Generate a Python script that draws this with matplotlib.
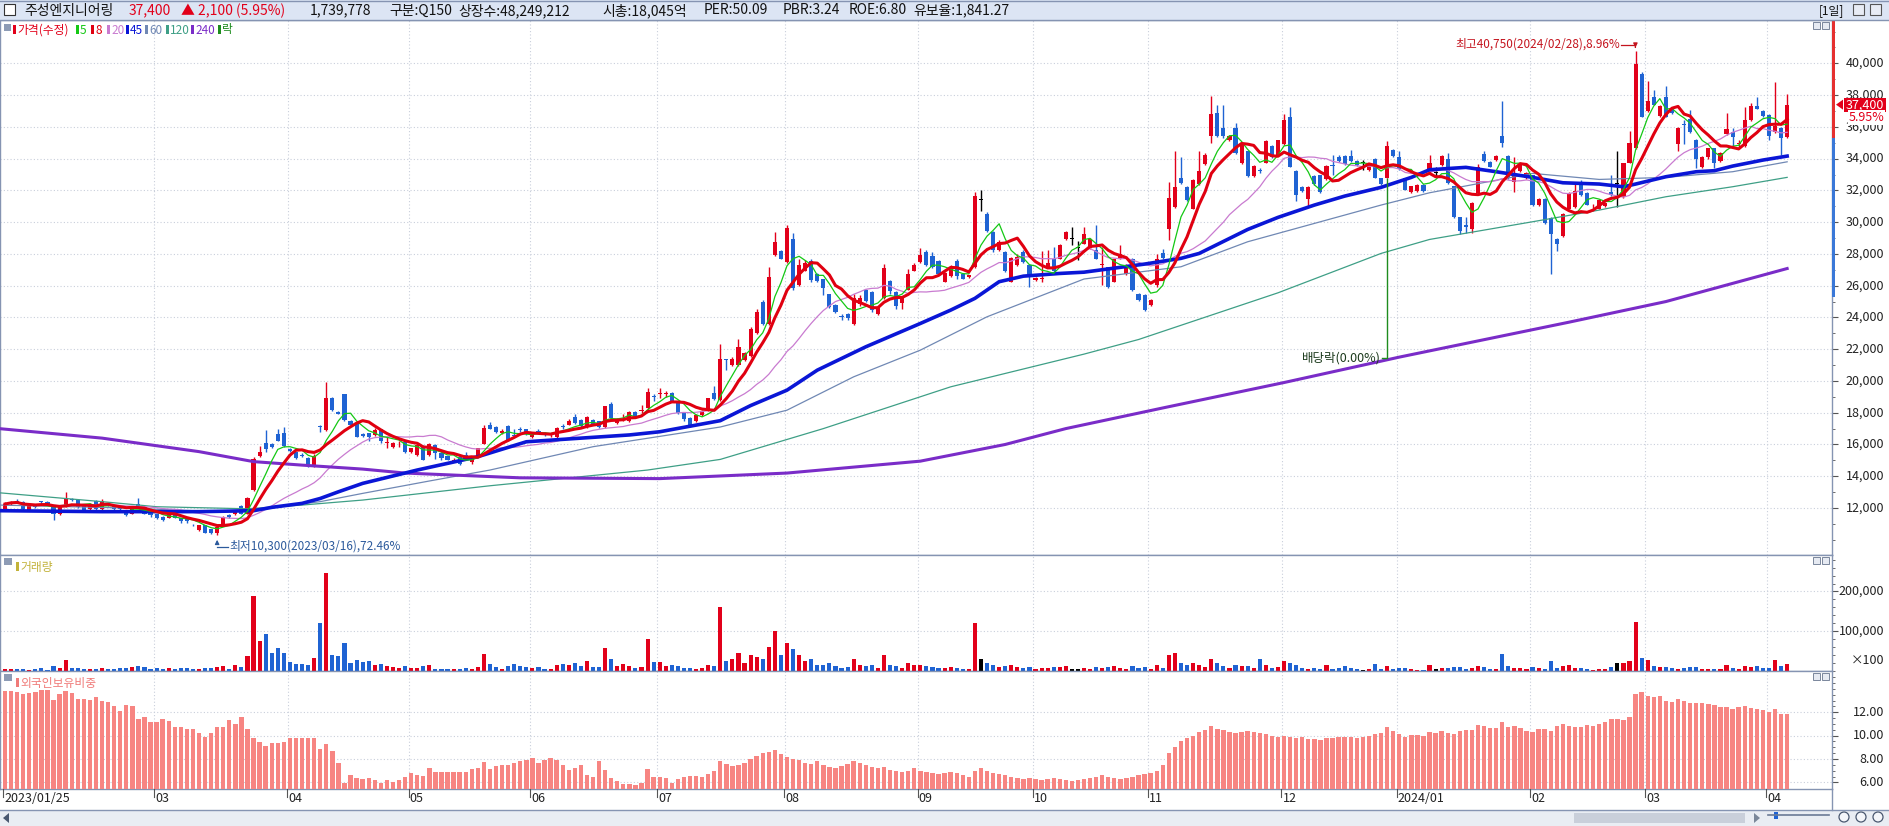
import numpy as np
import pandas as pd
import matplotlib
matplotlib.use('Agg')
import matplotlib.pyplot as plt
from matplotlib.patches import Rectangle, Polygon

plt.rcParams['font.family'] = ['Noto Sans CJK KR', 'DejaVu Sans']
plt.rcParams['axes.unicode_minus'] = False

# ---- daily candles 2023/01/25 .. 2024/04/04 ----
opens = [
    11950,12250,12450,12400,11900,12100,12400,12400,12100,11650,
    12100,12550,12500,12100,11950,12450,11950,12250,12100,12100,
    11850,11650,12250,12050,11750,11600,11450,11400,11600,11350,
    11350,10950,10600,10900,10650,10400,10900,11550,11600,12100,
    11650,13150,15250,16100,16050,16650,16700,15700,15500,15350,
    15150,14650,17150,16900,18950,18050,19150,17500,17350,16650,
    16700,16600,16950,16100,15850,16000,16150,15500,15350,15900,
    15350,15950,15450,15250,14950,15200,15350,14900,15250,16050,
    17250,17100,16700,17150,16600,16950,16950,16450,16850,16700,
    16600,16450,17150,17250,17700,17550,17100,17550,17450,17100,
    18550,17350,17550,17450,18050,18100,18300,19050,19150,19150,
    19250,18650,18000,17650,17450,17850,18150,19250,
    18800,21350,21000,21000,21300,21550,23000,24950,23600,27950,
    28200,27500,28950,26050,26950,27550,26750,26400,25450,24800,
    24100,24200,23600,24850,25700,25600,24200,25200,26300,25600,
    24900,25750,26950,27500,28150,27850,27550,26250,26600,27550,
    26750,26550,27200,31400,30500,29400,28250,28150,26250,27300,
    28150,27300,26350,26400,27200,27700,27700,28950,28950,28400,
    28650,28350,28250,27300,27150,26250,27700,26750,27700,25500,
    25400,24800,26050,28050,29600,30950,32800,32200,30850,32400,
    33650,35400,36850,35950,35200,35900,33700,34450,32900,33250,
    33750,34800,34250,34900,36600,33250,32200,31450,32900,32950,
    32700,33600,34100,34150,34150,33850,33700,33300,33950,32750,
    32800,34550,34100,32750,31900,31950,32350,33150,
    33100,33600,34000,32250,30300,29800,29600,31850,34300,33800,
    33900,35400,34150,32550,33200,32750,32950,31050,31450,30250,
    28950,29100,30850,30950,32500,31850,31050,30850,31000,31900,
    32400,31600,33750,34650,39350,37000,37900,36700,37850,37100,
    34900,36150,36500,35200,33450,34100,34650,33850,35550,35650,
    34900,34800,36450,37300,37000,36750,35650,35950,35350]
closes = [
    12250,12400,12400,11950,12100,12050,12350,12250,11650,12050,
    12650,12500,12050,11900,12250,11950,12450,12150,11950,11950,
    11550,12050,12150,11650,11550,11350,11250,11650,11400,11150,
    11150,10900,10900,10450,10400,10800,11450,11450,11750,11650,
    12650,15100,15550,15700,15850,16250,15900,15600,15150,15300,
    14650,15300,17100,18950,18150,17950,17550,17250,16500,16550,
    16450,16900,16200,16150,16100,16050,15500,15750,15950,15050,
    16000,15450,15150,15050,15050,14800,15050,15250,15750,17050,
    17000,16800,16850,16300,16550,16900,16650,16700,16800,16650,
    16650,17050,17100,17450,17350,17150,17700,17300,17100,18400,
    17650,17600,17600,18050,17800,18150,19300,19000,19200,19200,
    18750,18000,17600,17150,17850,18100,18900,18850,
    21400,21300,21400,22150,21750,23300,24350,23600,26550,28750,
    27700,29650,25850,27300,27450,26350,26300,25850,24650,24350,
    24050,23950,25200,25200,25050,24450,24650,27100,25650,24700,
    25250,26750,27300,27950,27300,27150,26750,26800,27200,26600,
    26450,26650,31650,31400,29450,28250,28750,26900,27750,27800,
    27500,26650,26500,26450,27400,26900,28550,29350,28950,28400,
    29250,28950,27700,27350,25900,27650,28000,27300,25700,25100,
    24450,25100,27700,27750,31550,32200,32450,31400,32650,33250,
    34200,36800,35400,35400,35400,34350,34850,32900,33550,33200,
    35100,34100,35150,36450,33500,31700,31950,32200,32400,31900,
    33550,33550,33850,33650,33850,33600,33700,33600,32800,32400,
    34800,34150,33350,32050,32250,32350,31950,33700,
    33100,34150,32450,30300,29450,29700,31200,33500,33850,33500,
    34150,35000,32750,33100,33600,33100,31050,31450,29950,29250,
    28650,30500,31850,31950,31700,31100,31100,31400,31200,31700,
    32400,33700,35000,39950,36650,37600,37400,37300,36650,36850,
    35900,36100,35650,33950,34100,34650,33700,34350,35850,35350,
    34950,36450,37300,37150,36700,35400,36050,35300,37400]
highs = [
    12350,12450,12550,12450,12150,12150,12450,12450,12150,12100,
    13000,12650,12550,12150,12300,12500,12550,12300,12150,12150,
    11900,12100,12600,12100,11800,11650,11500,11700,11650,11400,
    11400,11000,10950,10950,10700,10850,11500,11600,11850,12200,
    12700,15200,15900,16900,16100,17000,17100,15750,15550,15450,
    15200,15400,17250,19950,19000,18100,19200,17550,17400,16700,
    16750,17050,17000,16500,16150,16200,16200,15800,16050,15950,
    16100,16000,15500,15300,15150,15250,15500,15300,15800,17200,
    17400,17150,16950,17200,16950,17100,17000,16750,17000,16800,
    16750,17100,17300,17600,17950,17600,17800,17600,17500,18450,
    18700,17650,17950,18100,18100,18500,19550,19200,19550,19350,
    19300,18700,18050,17700,17950,18150,18950,19700,
    22350,21400,21500,22650,21850,23400,24550,25100,27200,29350,
    28250,29800,29300,27700,27600,27700,26800,26450,25500,24850,
    24200,24250,25450,25400,25800,25650,24700,27350,26350,25650,
    25300,27050,27450,28400,28250,28150,27600,26850,27300,27650,
    26800,26700,31900,32000,30650,29450,28850,28200,27800,28000,
    28250,27350,26550,28200,28250,28450,28600,29450,29700,28800,
    29700,29000,29800,28450,27200,27700,28550,27350,27750,25550,
    25450,25150,28000,28300,32550,34450,34100,32250,32700,34500,
    34350,37950,37400,37400,35500,36250,34900,34500,33600,33400,
    35150,34850,35200,36800,37250,33300,32250,32250,32950,33000,
    33600,34250,34250,34200,34550,33900,33900,33650,34050,32800,
    35100,34600,34500,32800,32300,32400,32400,34200,
    33500,34200,34350,32300,30350,30350,31250,33650,34500,33850,
    34200,37650,34200,34100,33650,33150,33000,31500,31500,30300,
    29000,30550,31900,32550,32650,31900,31150,31450,31250,32950,
    34450,33750,35750,40750,39450,38900,38300,37350,38600,37150,
    36000,36450,37050,35250,34150,34700,34700,34400,36850,35900,
    35150,37250,37500,37900,37050,36800,38800,36000,38100]
lows = [
    11900,12200,12350,11900,11850,12000,12250,12200,11250,11550,
    12050,12450,12000,11850,11900,11900,11900,12100,11900,11850,
    11500,11600,12100,11600,11450,11300,11150,11350,11350,11050,
    11050,10850,10550,10400,10350,10300,10850,11400,11550,11600,
    11600,13050,15200,15500,15800,16200,15850,15550,15100,15200,
    14600,14600,16800,16850,18100,17900,17500,17200,16450,16450,
    16250,16550,16100,15750,15800,15850,15450,15450,15300,15000,
    15300,15100,15050,15000,14900,14700,15000,14800,15200,16000,
    16950,16750,16650,16250,16450,16800,16600,16400,16750,16550,
    16500,16400,17000,17200,17300,17100,17050,17250,17050,17050,
    17600,17300,17450,17400,17750,18000,18250,18750,18950,19000,
    18700,17950,17500,17100,17400,17800,18100,18800,
    18750,20700,20950,20950,21250,21500,22950,23550,23550,27900,
    27650,27450,25700,25950,26900,26250,26200,25400,24600,24300,
    23850,23850,23550,24750,24950,24350,24150,25150,25450,24500,
    24500,25700,26900,27450,27250,27100,26700,26200,26550,26400,
    26400,26500,27100,30700,29400,28100,28200,26850,26200,27250,
    27450,25900,26300,26250,27150,26850,27650,28900,28550,27600,
    28600,28300,27650,26050,25850,26200,27650,26700,25650,25050,
    24400,24750,25900,27700,28850,30900,32400,31350,30800,32350,
    33600,35000,35350,35300,35100,34300,33650,32850,32850,33100,
    33700,34050,34200,34850,33450,31350,31900,31000,32350,31850,
    32650,32950,33800,33600,33800,33550,33300,33250,32750,32350,
    32750,34100,33300,32000,31850,31900,31900,33100,
    32850,33550,32400,30250,29250,29300,29300,31800,33800,33450,
    33850,34750,32700,31900,33150,32700,31000,31000,29900,26750,
    28200,29050,30800,30900,31650,31050,30900,30800,30950,31650,
    30950,31550,33700,34600,36600,36950,37350,36650,36600,36800,
    34450,34900,35600,33400,33400,34000,33400,33800,35500,34750,
    34750,34750,36400,37100,36650,35150,35600,34250,35300]

# volume, shown in units of 100 shares
volume = [
    5000,5000,5000,4200,3400,5900,8400,2500,12600,8400,
    27700,8400,7500,5000,5000,5000,7500,5000,5000,7500,
    7500,10900,12600,10900,5900,8400,5900,8400,5900,7500,
    8400,5900,5900,8400,7500,10900,12600,5900,15100,10900,
    37700,188700,75500,93100,44500,57000,44500,22600,17600,17600,
    15100,32700,119900,247400,40300,37700,69600,19300,27700,23500,
    25200,15100,16800,12600,10900,7500,12600,8400,8400,12600,
    15100,5900,5900,5000,5000,5900,8400,5900,10900,42800,
    17600,10900,5900,12600,17600,13400,10900,8400,10900,5900,
    5900,15100,17600,15100,21000,12600,26000,10900,10900,58700,
    31000,12600,17600,12600,8400,10900,80500,22600,22600,12600,
    15100,12600,8400,8400,5900,8000,15000,12000,
    160000,25000,30000,45000,20000,40000,35000,30000,60000,100000,
    40000,70000,55000,40000,25000,30000,15000,15000,20000,12000,
    8000,10000,30000,15000,12000,15000,8000,40000,15000,12000,
    8000,20000,15000,15000,12000,10000,8000,8000,10000,8000,
    6000,5000,120000,30000,20000,15000,10000,12000,15000,10000,
    8000,10000,5000,8000,8000,10000,10000,12000,6000,5000,
    8000,6000,10000,8000,10000,12000,8000,5000,12000,8000,
    10000,5000,15000,8000,40000,45000,20000,15000,20000,15000,
    10000,30000,20000,12000,8000,15000,12000,12000,8000,30000,
    15000,8000,10000,25000,20000,15000,6700,5000,6700,4200,
    15100,5000,7500,12600,7500,5000,2500,5000,17600,5000,
    12600,5000,7500,7500,5000,2500,2500,15100,
    5000,7500,7500,10100,10100,5000,7500,12600,10100,5000,
    5000,42800,12600,7500,7500,5000,10100,7500,5000,25200,
    7500,12600,15100,7500,7500,5000,2500,4200,5000,10100,
    20100,20100,25200,123300,32700,27700,12600,10100,10100,7500,
    5000,7500,9200,10100,4200,4200,5000,5000,15100,7500,
    5000,12600,10100,12600,7500,7500,27700,12600,17600]

# foreign ownership ratio (%)
foreign = [
    13.82,13.82,13.71,13.54,13.63,13.77,13.91,13.91,13.05,13.57,
    13.82,13.63,13.11,13.17,13.05,13.28,12.97,12.88,12.54,12.14,
    12.62,12.57,11.42,11.57,11.14,11.17,11.42,11.25,10.71,10.71,
    10.54,10.54,10.20,9.91,10.25,10.71,10.71,11.34,11.00,11.57,
    10.54,9.80,9.43,9.11,9.34,9.34,9.48,9.77,9.77,9.77,
    9.77,9.77,8.85,9.28,8.71,7.68,5.91,6.63,6.40,6.28,
    6.40,6.20,5.91,6.20,6.06,6.20,6.43,6.77,6.63,6.57,
    7.20,6.86,6.86,6.91,6.86,6.86,6.91,7.11,7.20,7.74,
    7.14,7.40,7.46,7.46,7.68,7.85,7.91,8.05,7.68,7.91,
    8.05,7.91,7.48,7.06,7.20,7.48,6.60,6.48,7.83,7.06,
    6.40,6.14,5.83,5.83,5.77,5.91,7.14,6.48,6.43,6.34,
    5.97,6.26,6.43,6.54,6.54,6.5,6.7,7.0,
    7.8,7.6,7.4,7.5,7.7,8.0,8.3,8.5,8.6,8.8,
    8.4,8.2,8.0,7.9,7.7,7.6,7.8,7.5,7.3,7.2,
    7.4,7.6,7.8,7.7,7.5,7.3,7.2,7.3,7.1,7.0,
    6.9,7.0,7.2,7.0,6.9,6.8,6.7,6.8,6.9,6.8,
    6.6,6.5,7.0,7.2,7.0,6.8,6.7,6.6,6.5,6.4,
    6.3,6.4,6.3,6.2,6.3,6.4,6.3,6.2,6.1,6.2,
    6.3,6.4,6.5,6.6,6.5,6.4,6.3,6.4,6.5,6.6,
    6.7,6.8,7.0,7.5,8.5,9.0,9.5,9.8,10.0,10.3,
    10.5,10.8,10.6,10.5,10.3,10.2,10.3,10.4,10.3,10.2,
    10.1,10.0,9.9,10.0,9.9,9.8,9.88,9.71,9.71,9.63,
    9.77,9.77,9.91,9.85,9.85,9.77,9.91,10.00,10.14,10.25,
    10.71,10.40,10.14,9.85,10.05,10.05,9.97,10.28,
    10.20,10.40,10.20,10.14,10.40,10.48,10.48,10.91,10.83,10.63,
    10.63,11.14,10.71,10.83,10.63,10.40,10.28,10.54,10.54,10.40,
    10.83,11.00,10.83,10.71,10.71,10.91,10.83,11.00,11.17,11.40,
    11.40,11.34,11.57,13.57,13.71,13.40,13.34,13.40,12.97,12.91,
    13.11,13.00,12.77,12.77,12.77,12.68,12.60,12.48,12.43,12.28,
    12.43,12.54,12.34,12.25,12.20,12.00,12.25,11.85,11.85]

# long moving averages, read at points along each line (bar index, price)
ma45_i = [-1,16,32,41,44,49,52,55,59,68,78,86,97,103,108,118,123,129,134,142,151,156,160,164,168,174,178,188,194,197,205,210,216,221,227,232,235,241,246,252,257,263,267,269,274,279,282,285,290,294]
ma45_v = [11830,11770,11770,11830,12040,12290,12600,13020,13550,14390,15230,16170,16450,16600,16800,17500,18450,19420,20680,22150,23620,24460,25200,26250,26600,26770,26850,27360,27720,28030,29540,30300,31075,31640,32190,32820,33300,33450,33175,32820,32480,32400,32230,32400,32860,33175,33240,33530,33910,34160]
ma60_i = [-1,20,35,43,52,59,70,80,97,118,129,140,151,162,178,194,205,216,227,235,252,263,274,285,294]
ma60_v = [12185,12000,11770,11975,12400,12920,13700,14390,15860,17100,18160,20260,21940,24040,26420,27190,28765,29920,31075,31850,33070,32690,32820,33175,33800]
ma120_i = [-1,16,25,40,49,59,80,106,118,135,156,178,187,210,227,235,252,263,274,285,294]
ma120_v = [12960,12400,12080,11950,12185,12500,13400,14390,15060,17000,19630,21690,22610,25550,28030,28910,30025,30760,31600,32230,32820]
ma240_i = [-1,16,32,41,49,59,66,85,108,129,151,165,175,191,211,230,258,274,294]
ma240_v = [17000,16400,15550,14920,14700,14450,14200,13900,13850,14200,14950,16000,17000,18300,19900,21500,23700,25000,27080]

month_idx = [0, 25, 47, 67, 87, 108, 129, 151, 170, 189, 211, 230, 252, 271, 291]
month_lbl = ['2023/01/25', '03', '04', '05', '06', '07', '08', '09', '10', '11', '12',
             '2024/01', '02', '03', '04']

W, H = 1889, 826
RED = '#E2001A'
BLUE = '#1F63D3'
FRAME = '#8594B2'
GRID = '#C9CFDB'
XL = (-0.83, 301.4)
PL = (9040, 42730)


def box(x0, y0, x1, y1):
    return [x0 / W, 1 - y1 / H, (x1 - x0) / W, (y1 - y0) / H]


def px(i):
    return 5 + 6.061 * i


def py(p):
    return 20 + (PL[1] - p) / (PL[1] - PL[0]) * 535


o = np.array(opens, float)
c = np.array(closes, float)
h = np.array(highs, float)
l = np.array(lows, float)
x = np.arange(len(c))
cols = np.where(c > o, RED, np.where(c < o, BLUE, '#000000'))

fig = plt.figure(figsize=(W / 100, H / 100), dpi=100)
fig.patch.set_facecolor('white')

axp = fig.add_axes(box(0, 20, 1832, 555))
axv = fig.add_axes(box(0, 555, 1832, 671))
axf = fig.add_axes(box(0, 671, 1832, 789))

for ax in (axp, axv, axf):
    ax.set_xlim(*XL)
    ax.set_xticks([])
    for s in ax.spines.values():
        s.set_color(FRAME)
        s.set_linewidth(1)
    for m in month_idx[1:]:
        ax.axvline(m - 0.4, color=GRID, lw=0.8, ls=(0, (1, 2)), zorder=0)
    ax.tick_params(axis='y', which='both', left=False, right=True, labelleft=False,
                   labelright=False, direction='out', color='#555555')
    ax.tick_params(axis='y', which='major', length=4)
    ax.tick_params(axis='y', which='minor', length=2)

# ---- price panel ----
axp.set_ylim(*PL)
pt = list(range(12000, 40001, 2000))
axp.set_yticks(pt)
axp.set_yticks(list(range(10000, 42001, 1000)), minor=True)
for p in pt:
    axp.axhline(p, color=GRID, lw=0.8, ls=(0, (1, 2)), zorder=0)
    axp.text(1884 / 1832, p, f'{p:,}', transform=axp.get_yaxis_transform(),
             ha='right', va='center', fontsize=9, color='#222222', clip_on=False)

axp.vlines(x, l, h, colors=cols, lw=1.0, zorder=2)
body = np.maximum(np.abs(c - o), 60)
axp.bar(x, body, bottom=np.minimum(o, c), width=0.68, color=cols, linewidth=0, zorder=3)

cs = pd.Series(closes, dtype=float)
ma5 = cs.rolling(5, min_periods=1).mean()
ma8 = cs.rolling(8, min_periods=1).mean()
ma20 = cs.rolling(20, min_periods=1).mean()
axp.plot(ma120_i, ma120_v, color='#3E9F86', lw=0.9, zorder=4)
axp.plot(ma60_i, ma60_v, color='#7088B4', lw=0.9, zorder=4)
axp.plot(x, ma20, color='#C97BD0', lw=0.9, zorder=4)
axp.plot(ma240_i, ma240_v, color='#7A2CC8', lw=2.2, zorder=4)
axp.plot(ma45_i, ma45_v, color='#0A16D6', lw=2.6, zorder=5)
axp.plot(x, ma5, color='#14C814', lw=0.9, zorder=5)
axp.plot(x, ma8, color='#E00010', lw=2.2, zorder=6)

# dividend marker
axp.vlines(228, 21450, lows[228], color='#1E8C1E', lw=1.0, zorder=6)
axp.plot([227.2, 228], [21450, 21450], color='#1E8C1E', lw=1.0, zorder=6)
axp.text(227.0, 21450, '배당락(0.00%)', ha='right', va='center', fontsize=9,
         color='#1d3b1d', zorder=7)

# ---- volume panel ----
VL = (0, 291800)
axv.set_ylim(*VL)
axv.set_yticks([100000, 200000])
axv.set_yticks(list(range(0, 290001, 20000)), minor=True)
for v in (100000, 200000):
    axv.axhline(v, color=GRID, lw=0.8, ls=(0, (1, 2)), zorder=0)
    axv.text(1884 / 1832, v, f'{v:,}', transform=axv.get_yaxis_transform(),
             ha='right', va='center', fontsize=9, color='#222222', clip_on=False)
axv.bar(x, volume, width=0.68, color=cols, linewidth=0, zorder=3)

# ---- foreign ownership panel ----
FL = (5.43, 15.54)
axf.set_ylim(*FL)
axf.set_yticks([6, 8, 10, 12])
axf.set_yticks(list(np.arange(6, 15.1, 0.5)), minor=True)
for v in (6, 8, 10, 12):
    axf.axhline(v, color=GRID, lw=0.8, ls=(0, (1, 2)), zorder=0)
    axf.text(1884 / 1832, v, f'{v:.2f}', transform=axf.get_yaxis_transform(),
             ha='right', va='center', fontsize=9, color='#222222', clip_on=False)
axf.bar(x, np.array(foreign) - FL[0], bottom=FL[0], width=0.72, color='#F78582',
        linewidth=0, zorder=3)

# ---- overlay in pixel space ----
ov = fig.add_axes([0, 0, 1, 1])
ov.set_xlim(0, W)
ov.set_ylim(H, 0)
ov.axis('off')
ov.patch.set_alpha(0)

# header bar
ov.add_patch(Rectangle((0, 0), W, 20, facecolor='#DCE5F4', edgecolor='none'))
ov.plot([0, W], [20, 20], color=FRAME, lw=1)
ov.plot([0, W], [0.5, 0.5], color=FRAME, lw=1)
ov.add_patch(Rectangle((4, 4), 11, 11, facecolor='white', edgecolor='#333333', lw=0.8))
hdr = [(24, '주성엔지니어링', '#111111'), (129, '37,400', RED), (181, '▲ 2,100 (5.95%)', RED),
       (310, '1,739,778', '#111111'), (389, '구분:Q150', '#111111'),
       (458, '상장수:48,249,212', '#111111'), (602, '시총:18,045억', '#111111'),
       (704, 'PER:50.09', '#111111'), (783, 'PBR:3.24', '#111111'),
       (849, 'ROE:6.80', '#111111'), (913, '유보율:1,841.27', '#111111')]
for xx, t, cc in hdr:
    ov.text(xx, 10.5, t, ha='left', va='center', fontsize=10, color=cc)
ov.text(1819, 10.5, '[1일]', ha='left', va='center', fontsize=8.5, color='#111111')
for bx in (1853, 1870):
    ov.add_patch(Rectangle((bx, 4), 11, 11, facecolor='#E8ECF4', edgecolor='#555555', lw=0.8))

# legend row
ov.add_patch(Rectangle((4, 24), 7, 7, facecolor='#8D9BB5', edgecolor='none'))
leg = [(13, '가격(수정)', '#E2001A'), (76, '5', '#14C814'), (91, '8', '#E00010'),
       (107, '20', '#C97BD0'), (126, '45', '#0A16D6'), (145, '60', '#7088B4'),
       (166, '120', '#3E9F86'), (191, '240', '#7A2CC8'), (218, '락', '#1E8C1E')]
for xx, t, cc in leg:
    ov.add_patch(Rectangle((xx, 25), 2.5, 9, facecolor=cc, edgecolor='none'))
    ov.text(xx + 4, 30, t, ha='left', va='center', fontsize=8.5, color=cc)

# sub panel titles
ov.add_patch(Rectangle((4, 558), 8, 7, facecolor='#8D9BB5', edgecolor='none'))
ov.add_patch(Rectangle((16, 562), 2.5, 9, facecolor='#C2B23A', edgecolor='none'))
ov.text(20, 567, '거래량', ha='left', va='center', fontsize=8.5, color='#C2B23A')
ov.add_patch(Rectangle((4, 674), 8, 7, facecolor='#8D9BB5', edgecolor='none'))
ov.add_patch(Rectangle((16, 678), 2.5, 9, facecolor='#F07A78', edgecolor='none'))
ov.text(20, 683, '외국인보유비중', ha='left', va='center', fontsize=8.5, color='#F07A78')
ov.text(1884, 661, '×100', ha='right', va='center', fontsize=9, color='#222222')

# panel icons
for yy in (22, 557, 673):
    for bx in (1813, 1822):
        ov.add_patch(Rectangle((bx, yy), 7, 7, facecolor='#E6EAF2', edgecolor='#7A869C', lw=0.7))

# price range bar on the axis
ov.add_patch(Rectangle((1832, 20), 3, py(35300) - 20, facecolor='#E53030', edgecolor='none'))
ov.add_patch(Rectangle((1832, py(35300)), 3, py(25300) - py(35300), facecolor='#3A78D8',
                       edgecolor='none'))

# current price tag
yc = py(closes[-1])
ov.add_patch(Polygon([[1836, yc], [1843, yc - 5], [1843, yc + 5]], closed=True,
                     facecolor='#E2001A', edgecolor='none'))
ov.add_patch(Rectangle((1844, yc - 7), 42, 14, facecolor='#E2001A', edgecolor='none'))
ov.text(1865, yc, f'{closes[-1]:,}', ha='center', va='center', fontsize=9, color='white')
ov.text(1884, yc + 13, '5.95%', ha='right', va='center', fontsize=9, color='#E2001A',
        bbox=dict(facecolor='white', edgecolor='none', pad=0.5))

# high / low notes
hx, hy = px(269), py(max(highs))
ov.text(hx - 15, 44.5, '최고40,750(2024/02/28),8.96%', ha='right', va='center',
        fontsize=8.5, color='#C4141E')
ov.plot([hx - 14, hx], [44.5, 44.5], color='#C4141E', lw=0.9)
ov.annotate('', xy=(hx, hy - 1), xytext=(hx, 44.5),
            arrowprops=dict(arrowstyle='-|>', color='#C4141E', lw=0.9, mutation_scale=6))
lx, ly = px(35), py(min(lows))
ov.text(lx + 12, 546, '최저10,300(2023/03/16),72.46%', ha='left', va='center',
        fontsize=8.5, color='#2C5A9C')
ov.plot([lx, lx + 11], [547, 547], color='#2C5A9C', lw=0.9)
ov.annotate('', xy=(lx, ly + 2), xytext=(lx, 547),
            arrowprops=dict(arrowstyle='-|>', color='#2C5A9C', lw=0.9, mutation_scale=6))

# date axis
for m, t in zip(month_idx, month_lbl):
    xx = max(px(m - 0.4), 3)
    ov.plot([xx, xx], [789, 797], color='#555555', lw=0.8)
    ov.text(xx + 1, 799, t, ha='left', va='center', fontsize=9, color='#222222')

# scrollbar
ov.add_patch(Rectangle((0, 810), W, 16, facecolor='#E9EDF3', edgecolor='none'))
ov.plot([0, W], [810, 810], color=FRAME, lw=1)
ov.add_patch(Polygon([[3, 818], [9, 813], [9, 823]], closed=True, facecolor='#4A5870'))
ov.add_patch(Rectangle((1574, 813), 171, 10, facecolor='#C9CFDA', edgecolor='none'))
ov.add_patch(Polygon([[1760, 818], [1754, 813], [1754, 823]], closed=True, facecolor='#7A8799'))
ov.plot([1768, 1829], [815, 815], color='#6A7A96', lw=1.2)
ov.add_patch(Rectangle((1774, 812), 4, 7, facecolor='#1F63D3', edgecolor='none'))
for cx in (1844, 1861, 1878):
    ov.add_patch(plt.Circle((cx, 817), 5, facecolor='#F4F6FA', edgecolor='#4A5870', lw=0.9))
ov.plot([1832, 1832], [789, 810], color=FRAME, lw=1)

fig.savefig('out.png', dpi=100)
